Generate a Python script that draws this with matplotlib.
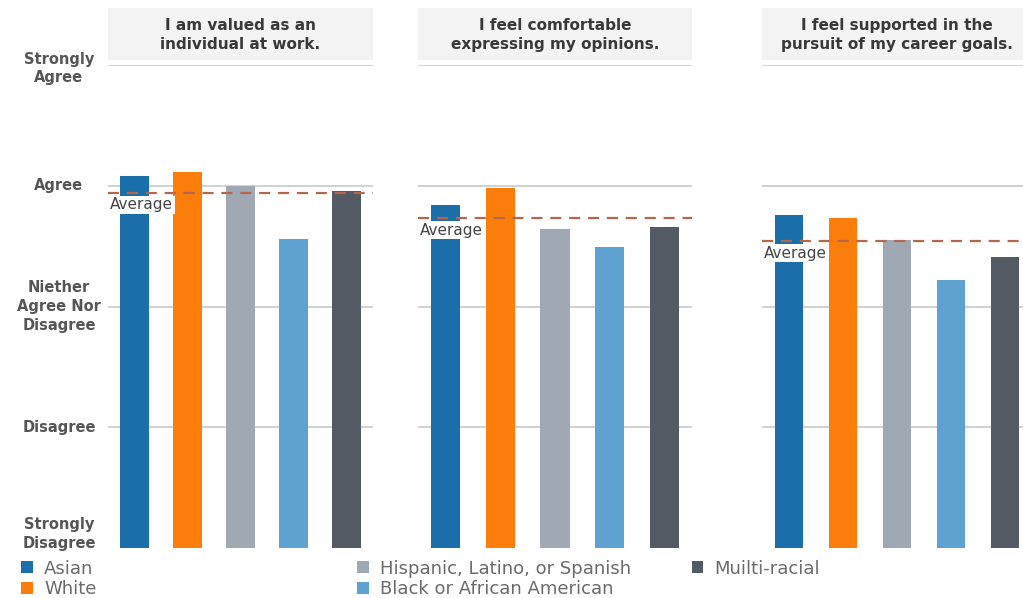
import matplotlib
matplotlib.use("Agg")
import matplotlib.pyplot as plt
from matplotlib.patches import Rectangle, Patch

plt.rcParams['font.family'] = ['DejaVu Sans']

# Survey groups and scores (1 = Strongly Disagree ... 5 = Strongly Agree)
groups = ["Asian", "White", "Hispanic, Latino, or Spanish",
          "Black or African American", "Muilti-racial"]
colors = ["#1a6ea9", "#fb7e0c", "#a0a9b3", "#5fa2d1", "#535a64"]

questions = ["I am valued as an\nindividual at work.",
             "I feel comfortable\nexpressing my opinions.",
             "I feel supported in the\npursuit of my career goals."]
valued = [4.08, 4.11, 4.00, 3.56, 3.96]
comfortable = [3.84, 3.98, 3.64, 3.49, 3.66]
supported = [3.76, 3.73, 3.55, 3.22, 3.41]
averages = [3.94, 3.73, 3.54]

levels = [1, 2, 3, 4, 5]
level_labels = ["Strongly\nDisagree", "Disagree", "Niether\nAgree Nor\nDisagree",
                "Agree", "Strongly\nAgree"]

W, H = 1023, 598
fig = plt.figure(figsize=(W / 100, H / 100), dpi=100)

# panel extents in pixels (left, right)
panels = [(108, 373), (418, 692), (762, 1032)]
top_px, bot_px = 65, 548

series = [valued, comfortable, supported]
axes = []
for i, (l, r) in enumerate(panels):
    ax = fig.add_axes([l / W, 1 - bot_px / H, (r - l) / W, (bot_px - top_px) / H])
    axes.append(ax)
    xs = range(len(groups))
    vals = series[i]
    ax.bar(xs, [v - 1 for v in vals], bottom=1, width=0.53, color=colors, zorder=2)
    ax.set_xlim(-0.5, 4.5)
    ax.set_ylim(1, 5)
    for lv in levels[1:]:
        ax.axhline(lv, color="#c9c9c9", lw=1.2, zorder=1)
    ax.axhline(averages[i], color="#b5674c", lw=1.6, dashes=(5, 3.5), zorder=3)
    ax.text(0.007, averages[i] - 0.035, "Average", transform=ax.get_yaxis_transform(),
            ha="left", va="top", fontsize=11, color="#444444", zorder=4,
            bbox=dict(facecolor="white", edgecolor="none", pad=1.2))
    for s in ax.spines.values():
        s.set_visible(False)
    ax.set_xticks([])
    ax.set_yticks([])
    # header box
    ax.add_patch(Rectangle((0, 1.01), 1.0, 0.108, transform=ax.transAxes,
                           facecolor="#f3f3f3", edgecolor="none", clip_on=False))
    ax.text(0.5, 1.062, questions[i], transform=ax.transAxes, ha="center", va="center",
            fontsize=11, fontweight="bold", color="#383838", linespacing=1.4)

# y level labels on the left
ax0 = axes[0]
for lv, lab in zip(levels, level_labels):
    y = lv
    if lv == 5:
        y = 4.97
    elif lv == 1:
        y = 1.115
    ax0.text(-0.185, y, lab, transform=ax0.get_yaxis_transform(), ha="center", va="center",
             fontsize=10.5, fontweight="bold", color="#555555", linespacing=1.3)

# legend in three columns
handles = [Patch(facecolor=c, edgecolor="none") for c in colors]
cols = [([0, 1], 0.021), ([2, 3], 0.349), ([4], 0.676)]
for idx, x in cols:
    fig.legend([handles[k] for k in idx], [groups[k] for k in idx],
               loc="upper left", bbox_to_anchor=(x, 0.064), frameon=False,
               fontsize=13, labelcolor="#6a6a6a", handlelength=0.65, handleheight=0.65,
               handletextpad=0.6, labelspacing=0.15, borderaxespad=0, borderpad=0)

fig.savefig("out.png", dpi=100, facecolor="white")
